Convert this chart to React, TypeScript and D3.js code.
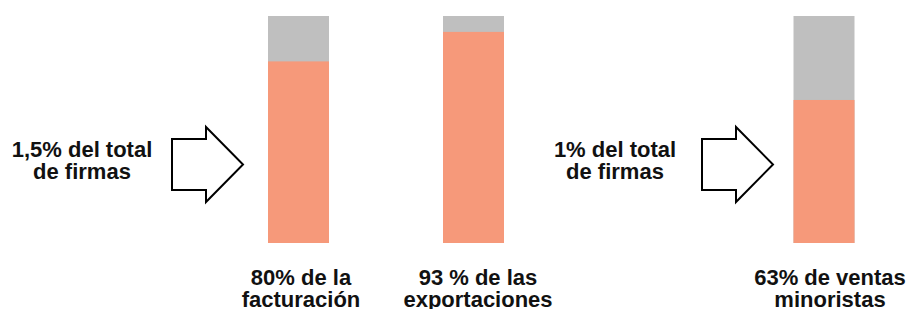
import React, { useEffect, useRef } from 'react';
import * as d3 from 'd3';

// data
const categories = ['facturacion', 'exportaciones', 'ventas'];
const shares = [80, 93, 63];
const barLabels = [
  ['80% de la', 'facturación'],
  ['93 % de las', 'exportaciones'],
  ['63% de ventas', 'minoristas'],
];
const firmGroups = ['grandes', 'exportadoras'];
const firmLabels = [
  ['1,5% del total', 'de firmas'],
  ['1% del total', 'de firmas'],
];

const W = 918;
const H = 309;
const ORANGE = '#F6997A';
const GRAY = '#BFBFBF';
const FONT = '"Liberation Sans", Arial, Helvetica, sans-serif';

const App: React.FC = () => {
  const svgRef = useRef<SVGSVGElement>(null);

  useEffect(() => {
    if (!svgRef.current) return;
    document.body.style.margin = '0';

    const svg = d3.select(svgRef.current);
    svg.selectAll('*').remove();

    const y = d3.scaleLinear().domain([0, 100]).range([243, 16]);
    const barX = d3.scaleOrdinal<string, number>()
      .domain(categories)
      .range([298.5, 473.5, 824]);
    const labelX = d3.scaleOrdinal<string, number>()
      .domain(categories)
      .range([301, 478, 830]);
    const barW = 61;

    const firmX = d3.scaleOrdinal<string, number>()
      .domain(firmGroups)
      .range([82, 615]);
    const arrowX = d3.scaleOrdinal<string, number>()
      .domain(firmGroups)
      .range([172, 702]);

    // bars
    const bars = svg.append('g');
    categories.forEach((c, i) => {
      const cx = barX(c);
      bars.append('rect')
        .attr('x', cx - barW / 2)
        .attr('y', y(100))
        .attr('width', barW)
        .attr('height', y(0) - y(100))
        .attr('fill', GRAY);
      bars.append('rect')
        .attr('x', cx - barW / 2)
        .attr('y', y(shares[i]))
        .attr('width', barW)
        .attr('height', y(0) - y(shares[i]))
        .attr('fill', ORANGE);

      const lx = labelX(c);
      const t = bars.append('text')
        .attr('x', lx)
        .attr('y', 285)
        .attr('text-anchor', 'middle')
        .attr('font-family', FONT)
        .attr('font-weight', 'bold')
        .attr('font-size', 22)
        .attr('fill', '#111');
      barLabels[i].forEach((line, j) => {
        t.append('tspan').attr('x', lx).attr('dy', j === 0 ? 0 : 22).text(line);
      });
    });

    // arrows + firm text
    const arrowPath = d3.path();
    arrowPath.moveTo(0, -25.5);
    arrowPath.lineTo(34, -25.5);
    arrowPath.lineTo(34, -37.5);
    arrowPath.lineTo(71, 0);
    arrowPath.lineTo(34, 37.5);
    arrowPath.lineTo(34, 25.5);
    arrowPath.lineTo(0, 25.5);
    arrowPath.closePath();

    firmGroups.forEach((g, i) => {
      svg.append('path')
        .attr('d', arrowPath.toString())
        .attr('transform', `translate(${arrowX(g)},164.5)`)
        .attr('fill', '#fff')
        .attr('stroke', '#000')
        .attr('stroke-width', 2)
        .attr('stroke-linejoin', 'miter');

      const t = svg.append('text')
        .attr('x', firmX(g))
        .attr('y', 157)
        .attr('text-anchor', 'middle')
        .attr('font-family', FONT)
        .attr('font-weight', 'bold')
        .attr('font-size', 22)
        .attr('fill', '#111');
      firmLabels[i].forEach((line, j) => {
        t.append('tspan').attr('x', firmX(g)).attr('dy', j === 0 ? 0 : 22).text(line);
      });
    });
  }, []);

  return (
    <div style={{ position: 'absolute', left: 0, top: 0 }}>
      <svg ref={svgRef} width={W} height={H} style={{ display: 'block', background: '#fff' }} />
    </div>
  );
};

export default App;
